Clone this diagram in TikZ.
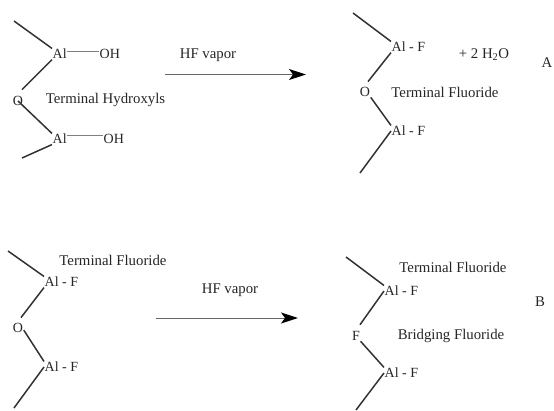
\documentclass[tikz,border=0pt]{standalone}
\usepackage{fontspec}
\setmainfont{Liberation Serif}
\usetikzlibrary{arrows.meta}
\tikzset{
  lbl/.style={inner sep=0.5pt,font=\fontsize{14.8}{16}\selectfont,text=black!85},
  atom/.style={inner sep=0.5pt,font=\fontsize{14}{16}\selectfont,text=black!85,anchor=west},
  ring/.style={inner sep=0.5pt,font=\fontsize{14}{16}\selectfont,text=black!85},
  bond/.style={draw=black!80,line width=1.5pt},
  thinbond/.style={draw=black!50,line width=1pt},
  rxn/.style={draw=black!60,line width=1pt,-{Stealth[length=17pt,width=11pt,inset=4pt,black]}}
}
\begin{document}
\begin{tikzpicture}[x=1pt,y=-1pt]
\useasboundingbox (0,0) rectangle (554,410);
\fill[white] (0,0) rectangle (554,410);
% Reaction A, left
\node[atom] (alA) at (52,54) {Al};
\node[atom] (ohA) at (99,54) {OH};
\node[ring] (oA) at (18,101) {O};
\node[atom] (alB) at (52,139) {Al};
\node[atom] (ohB) at (103,139) {OH};
\node[lbl] (thA) at (105.5,100) {Terminal Hydroxyls};
\coordinate (e1) at (14,21);
\coordinate (e2) at (22,158);
\draw[bond] (e1) -- (alA.north west);
\draw[bond] (alA.south west) -- ([shift={(4,-6)}]oA.north);
\draw[bond] (oA.center) -- (alB.north west);
\draw[bond] (alB.south west) -- (e2);
\draw[thinbond] (alA.east |- 0,51) -- (ohA.west |- 0,51);
\draw[thinbond] (alB.east |- 0,135) -- (ohB.west |- 0,135);
% Arrow A
\node[lbl] (hfA) at (208,55) {HF vapor};
\coordinate (a1) at (165,74.5);
\coordinate (a2) at (306,74.5);
\draw[rxn] (a1) -- (a2);
% Reaction A, right
\node[atom] (alC) at (391,47) {Al - F};
\node[ring] (oC) at (365,92) {O};
\node[atom] (alD) at (391,131) {Al - F};
\node[lbl] (tfA) at (445,92) {Terminal Fluoride};
\node[lbl] (wat) at (484,55) {+ 2 H\textsubscript{2}O};
\node[lbl] (labA) at (547,63) {A};
\coordinate (e3) at (353,13);
\coordinate (e4) at (360,173);
\draw[bond] (e3) -- (alC.north west);
\draw[bond] (alC.south west) -- ([shift={(3,-5)}]oC.north);
\draw[bond] (oC.south east) -- (alD.north west);
\draw[bond] (alD.west) -- (e4);
% Reaction B, left
\node[lbl] (tfB) at (113,260) {Terminal Fluoride};
\node[atom] (alE) at (44,282) {Al - F};
\node[ring] (oE) at (18,328) {O};
\node[atom] (alF) at (44,367) {Al - F};
\coordinate (e5) at (8,251);
\coordinate (e6) at (14,408);
\draw[bond] (e5) -- (alE.north west);
\draw[bond] (alE.south west) -- ([shift={(3,-5)}]oE.north);
\draw[bond] (oE.-20) -- (alF.north west);
\draw[bond] (alF.west) -- (e6);
% Arrow B
\node[lbl] (hfB) at (230,290) {HF vapor};
\coordinate (a3) at (156,318);
\coordinate (a4) at (298,318);
\draw[rxn] (a3) -- (a4);
% Reaction B, right
\node[lbl] (tfC) at (453,267) {Terminal Fluoride};
\node[atom] (alG) at (384,291) {Al - F};
\node[ring] (fG) at (356,336) {F};
\node[lbl] (bf) at (451,336) {Bridging Fluoride};
\node[atom] (alH) at (384,373) {Al - F};
\node[lbl] (labB) at (540,302) {B};
\coordinate (e7) at (346,257);
\coordinate (e8) at (356,410);
\draw[bond] (e7) -- (alG.north west);
\draw[bond] (alG.west) -- ([shift={(4,-6)}]fG.north);
\draw[bond] (fG.south east) -- (alH.north west);
\draw[bond] (alH.west) -- (e8);
\end{tikzpicture}
\end{document}
